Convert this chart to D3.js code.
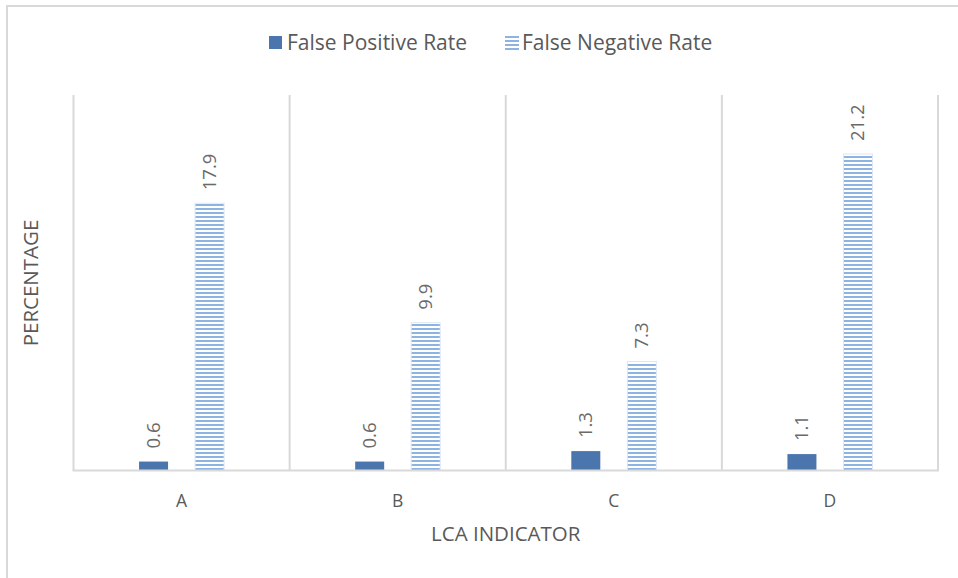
<!DOCTYPE html>
<html><head><meta charset="utf-8">
<script src="https://cdn.jsdelivr.net/npm/d3@7"></script>
<style>body{margin:0;background:#fff;}svg{display:block;font-family:"Open Sans","Noto Sans",sans-serif;}</style>
</head><body>
<svg id="chart" width="958" height="578"></svg>
<script>
const categories = ["A","B","C","D"];
const seriesNames = ["False Positive Rate","False Negative Rate"];
const falsePositive = [0.6,0.6,1.3,1.1];
const falseNegative = [17.9,9.9,7.3,21.2];
const yTicks = [0,5,10,15,20,25];

const svg = d3.select("#chart");
const W = 958, H = 578;
const m = {left:73.5, right:938, top:95, bottom:470.5};

const defs = svg.append("defs");
const pat = defs.append("pattern").attr("id","hatch").attr("patternUnits","userSpaceOnUse")
  .attr("width",8).attr("height",4);
pat.append("rect").attr("width",8).attr("height",4).attr("fill","#ffffff");
pat.append("rect").attr("y",0).attr("width",8).attr("height",2).attr("fill","#8db3e2");

// outer border
svg.append("rect").attr("x",7).attr("y",6).attr("width",W).attr("height",H)
  .attr("fill","none").attr("stroke","#d9d9d9").attr("stroke-width",2);

const x = d3.scaleBand().domain(categories).range([m.left,m.right]);
const y = d3.scaleLinear().domain([0,25]).range([m.bottom,m.bottom-14.93*25]);

// vertical gridlines at category boundaries
const bounds = categories.map(c=>x(c)).concat([x(categories[categories.length-1])+x.bandwidth()]);
svg.append("g").selectAll("line").data(bounds).join("line")
  .attr("x1",d=>d).attr("x2",d=>d).attr("y1",m.top).attr("y2",m.bottom)
  .attr("stroke","#d9d9d9").attr("stroke-width",2);

const bw = 29;
const data = [];
categories.forEach((c,i)=>{
  data.push({c, s:0, v:falsePositive[i]});
  data.push({c, s:1, v:falseNegative[i]});
});
const gap = 27;
function bx(d){ const cx = x(d.c)+x.bandwidth()/2; return d.s===0 ? cx-gap/2-bw : cx+gap/2; }

svg.append("g").selectAll("rect").data(data).join("rect")
  .attr("x",bx).attr("width",bw)
  .attr("y",d=>y(d.v)).attr("height",d=>y(0)-y(d.v))
  .attr("fill",d=>d.s===0?"#4a76ad":"url(#hatch)")
  .attr("stroke",d=>d.s===0?"none":"#dde7f3").attr("stroke-width",1);

// baseline
svg.append("line").attr("x1",m.left-1).attr("x2",m.right+1).attr("y1",m.bottom).attr("y2",m.bottom)
  .attr("stroke","#d9d9d9").attr("stroke-width",2);

// value labels
svg.append("g").selectAll("text").data(data).join("text")
  .attr("transform",d=>`translate(${bx(d)+bw/2+6.5},${y(d.v)-13}) rotate(-90)`)
  .attr("text-anchor","start").attr("font-size",18.5).attr("fill","#6a6a6a")
  .text(d=>d.v.toFixed(1));

// category labels
svg.append("g").selectAll("text").data(categories).join("text")
  .attr("x",d=>x(d)+x.bandwidth()/2).attr("y",507)
  .attr("text-anchor","middle").attr("font-size",17.5).attr("fill","#595959").text(d=>d);

// axis titles
svg.append("text").attr("x",(m.left+m.right)/2).attr("y",541).attr("text-anchor","middle")
  .attr("font-size",20.5).attr("fill","#595959").text("LCA INDICATOR");
svg.append("text").attr("transform","translate(38,283) rotate(-90)").attr("text-anchor","middle")
  .attr("font-size",20.5).attr("fill","#595959").text("PERCENTAGE");

// legend
const lg = svg.append("g");
lg.append("rect").attr("x",269).attr("y",36).attr("width",13).attr("height",13).attr("fill","#4a76ad");
lg.append("text").attr("x",287).attr("y",50).attr("font-size",21).attr("fill","#595959").text(seriesNames[0]);
lg.append("rect").attr("x",505).attr("y",36).attr("width",14).attr("height",14).attr("fill","url(#hatch)");
lg.append("text").attr("x",522).attr("y",50).attr("font-size",21).attr("fill","#595959").text(seriesNames[1]);
</script>
</body></html>
